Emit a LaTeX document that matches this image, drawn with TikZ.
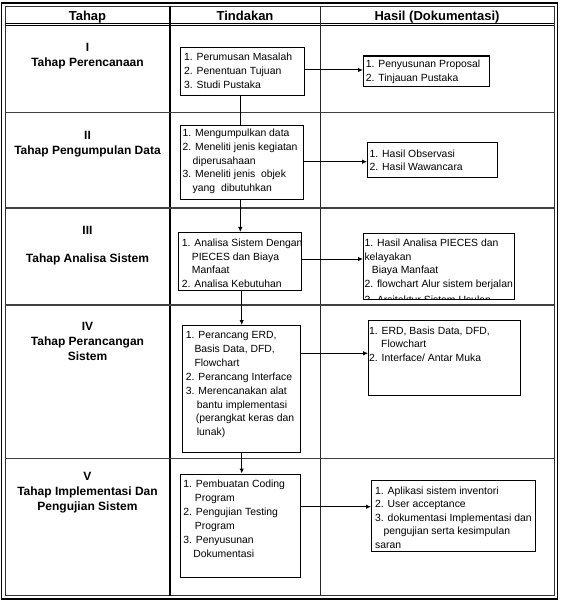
\documentclass[tikz,border=0pt]{standalone}
\usepackage{fontspec}
\setmainfont{Liberation Sans}
\usetikzlibrary{arrows.meta}
\tikzset{
  box/.style={draw, line width=1.2pt, anchor=north west, inner sep=0pt},
  txt/.style={anchor=north west, inner sep=0pt, align=left, font=\fontsize{10.4}{#1}\selectfont},
  txt/.default=14,
  tahap/.style={anchor=north, inner sep=0pt, align=center, font=\fontsize{12}{15}\selectfont\bfseries},
  head/.style={anchor=base, inner sep=0pt, font=\fontsize{13}{15}\selectfont\bfseries},
  conn/.style={line width=1.1pt},
  arr/.style={line width=1pt, -{Latex[length=5pt,width=4.5pt]}},
  thinarr/.style={line width=0.8pt, -{Latex[length=5pt,width=4.5pt]}},
  rowline/.style={line width=1.5pt, black!75},
}
\newcommand\fl{\rule{0pt}{8pt}}
\newcommand\fb{\rule{0pt}{9pt}}
\newcommand\ind[1]{\hspace*{#1pt}}

\begin{document}
\begin{tikzpicture}[x=1pt,y=-1pt]
\useasboundingbox (0,0) rectangle (561,601);
\fill[white] (0,0) rectangle (561,601);

% ---- table frame ----
\draw[line width=1.4pt] (1.7,3) rectangle (557.5,599);
\draw[line width=1pt, black!80] (5,6.5) rectangle (554,595.7);
\draw[line width=0.9pt] (5,23.3) -- (554,23.3);
\draw[line width=0.9pt] (5,25.9) -- (554,25.9);
\draw[line width=1.8pt] (170,6.5) -- (170,595.7);
\draw[line width=0.9pt, black!85] (320.5,6.5) -- (320.5,595.7);
\draw[rowline] (5,112.5) -- (554,112.5);
\draw[rowline] (5,207.8) -- (554,207.8);
\draw[rowline] (5,305) -- (554,305);
\draw[rowline] (5,458.3) -- (554,458.3);

% ---- header ----
\node[head] (h1) at (87.5,20.5) {Tahap};
\node[head] (h2) at (245,20.5) {Tindakan};
\node[head] (h3) at (437,20.5) {Hasil (Dokumentasi)};

% ---- Tahap column ----
\node[tahap] (t1) at (87.5,42.3) {\fb I\\Tahap Perencanaan};
\node[tahap] (t2) at (87.5,130.5) {\fb II\\Tahap Pengumpulan Data};
\node[tahap] (t3) at (87.5,225.3) {\fb III\\[13pt]Tahap Analisa Sistem};
\node[tahap] (t4) at (87.5,321.5) {\fb IV\\Tahap Perancangan\\Sistem};
\node[tahap] (t5) at (87.5,471.5) {\fb V\\Tahap Implementasi Dan\\Pengujian Sistem};

% ---- Tindakan boxes ----
\node[box, minimum width=124pt, minimum height=48pt] (b1) at (180,47) {};
\node[box, minimum width=123.5pt, minimum height=74pt] (b2) at (179.5,125) {};
\node[box, minimum width=123pt, minimum height=58pt] (b3) at (178,232) {};
\node[box, minimum width=117.5pt, minimum height=127pt] (b4) at (182,325) {};
\node[box, minimum width=120pt, minimum height=103.5pt] (b5) at (180,473.5) {};

\node[txt=14] (tb1) at (184,52.5) {\fl 1. Perumusan Masalah\\2. Penentuan Tujuan\\3. Studi Pustaka};
\node[txt=13.7] (tb2) at (182.5,128.7) {\fl 1. Mengumpulkan data\\2. Meneliti jenis kegiatan\\\ind{10}diperusahaan\\3. Meneliti jenis\ \ objek\\\ind{10}yang\ \ dibutuhkan};
\node[txt=13.5] (tb3) at (181.7,238.3) {\fl 1. Analisa Sistem Dengan\\\ind{10}PIECES dan Biaya\\\ind{10}Manfaat\\2. Analisa Kebutuhan};
\node[txt=13.9] (tb4) at (185.7,330.3) {\fl 1. Perancang ERD,\\\ind{8.6}Basis Data, DFD,\\\ind{8.6}Flowchart\\2. Perancang Interface\\3. Merencanakan alat\\\ind{11}bantu implementasi\\\ind{10}(perangkat keras dan\\\ind{11}lunak)};
\node[txt=13.9] (tb5) at (183.2,479.3) {\fl 1. Pembuatan Coding\\\ind{11.5}Program\\2. Pengujian Testing\\\ind{11.5}Program\\3. Penyusunan\\\ind{10}Dokumentasi};

% ---- Hasil boxes ----
\node[box, minimum width=126pt, minimum height=30.5pt] (r1) at (363,55.5) {};
\node[box, minimum width=130pt, minimum height=35pt] (r2) at (367,142) {};
\node[box, minimum width=150.5pt, minimum height=65.5pt] (r3) at (363,233) {};
\node[box, minimum width=151.5pt, minimum height=75.5pt] (r4) at (368,319.5) {};
\node[box, minimum width=164pt, minimum height=71.5pt] (r5) at (371,479.5) {};

\node[txt=14] (tr1) at (365.7,59.5) {\fl 1. Penyusunan Proposal\\2. Tinjauan Pustaka};
\node[txt=13.4] (tr2) at (369.5,149.3) {\fl 1. Hasil Observasi\\2. Hasil Wawancara};
\begin{scope}
  \clip (r3.north west) rectangle (r3.south east);
  \node[txt=13.4] (tr3) at (364.3,238.7) {\fl 1. Hasil Analisa PIECES dan\\kelayakan\\\ind{7.4}Biaya Manfaat\\2. flowchart Alur sistem berjalan\\[3pt]3. Arsitektur Sistem Usulan};
\end{scope}
\node[txt=13.6] (tr4) at (369,326) {\fl 1. ERD, Basis Data, DFD,\\\ind{12}Flowchart\\2. Interface/ Antar Muka};
\node[txt=13.5] (tr5) at (375,486) {\fl 1. Aplikasi sistem inventori\\2. User acceptance\\3. dokumentasi Implementasi dan\\\ind{8.3}pengujian serta kesimpulan\\saran};

% ---- connectors ----
\coordinate (vx1) at (240.3,0);
\coordinate (vx2) at (241.7,0);
\draw[conn] (b1.south -| vx1) -- (b2.north -| vx1);
\draw[conn, -{Latex[length=5pt,width=4.5pt]}] (b2.south -| vx1) -- (b3.north -| vx1);
\draw[conn, -{Latex[length=5pt,width=4.5pt]}] (b3.south -| vx2) -- (b4.north -| vx2);
\draw[conn, -{Latex[length=5pt,width=4.5pt]}] (b4.south -| vx2) -- (b5.north -| vx2);

\coordinate (ay1) at (0,70);
\coordinate (ay2) at (0,161.7);
\coordinate (ay3) at (0,259);
\coordinate (ay4) at (0,353.3);
\coordinate (ay5) at (0,506.7);
\draw[arr] (b1.east |- ay1) -- (r1.west |- ay1);
\draw[thinarr] (b2.east |- ay2) -- (r2.west |- ay2);
\draw[thinarr] (b3.east |- ay3) -- (r3.west |- ay3);
\draw[thinarr] (b4.east |- ay4) -- (r4.west |- ay4);
\draw[arr] (b5.east |- ay5) -- (r5.west |- ay5);
\end{tikzpicture}
\end{document}
